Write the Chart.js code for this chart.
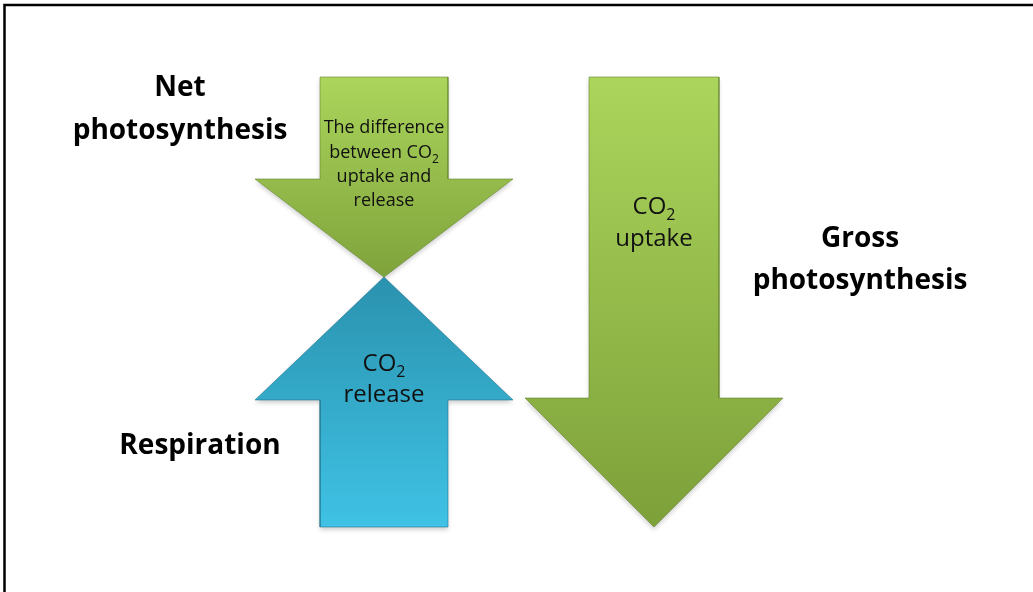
<!DOCTYPE html>
<html>
<head>
<meta charset="utf-8">
<script src="https://cdn.jsdelivr.net/npm/chart.js@4.4.1/dist/chart.umd.min.js"></script>
<style>
html,body{margin:0;padding:0;background:#fff;overflow:hidden;}
#wrap{width:1033px;height:592px;position:relative;}
</style>
</head>
<body>
<div id="wrap"><canvas id="c" width="1033" height="592"></canvas></div>
<script>
// ---- data (diagram geometry in chart units) ----
const arrowNames    = ['Net photosynthesis', 'Respiration', 'Gross photosynthesis'];
const arrowCenterX  = [384, 384, 654];
const arrowTailY    = [77, 527, 77];
const arrowHeadY    = [179, 400, 398];
const arrowTipY     = [277, 277, 527];
const shaftHalfW    = [64, 64, 65];
const headHalfW     = [129, 129, 129];
const arrowColorTop = ['#abd55c', '#2a92ae', '#abd55c'];
const arrowColorBot = ['#7fa33b', '#3fc2e5', '#7da039'];

const outerLabels   = [['Net', 'photosynthesis'], ['Respiration'], ['Gross', 'photosynthesis']];
const outerLabelX   = [180, 200, 860];
const outerLabelY   = [[88, 131], [446], [239, 281]];

const innerLabels   = [['The difference', 'between CO|2', 'uptake and', 'release'], ['CO|2', 'release'], ['CO|2', 'uptake']];
const innerLabelY   = [[128, 153, 177, 201], [364, 395], [207, 239]];
const innerFontSize = [18, 24, 24];

function arrowPolygon(i) {
  const cx = arrowCenterX[i], s = shaftHalfW[i], h = headHalfW[i];
  const t = arrowTailY[i], b = arrowHeadY[i], p = arrowTipY[i];
  return [
    {x: cx - s, y: t}, {x: cx + s, y: t}, {x: cx + s, y: b}, {x: cx + h, y: b},
    {x: cx, y: p}, {x: cx - h, y: b}, {x: cx - s, y: b}, {x: cx - s, y: t}
  ];
}

function gradientFor(i) {
  return function(ctx) {
    const chart = ctx.chart;
    if (!chart.chartArea) return arrowColorTop[i];
    const ys = chart.scales.y;
    const yTop = ys.getPixelForValue(Math.min(arrowTailY[i], arrowTipY[i]));
    const yBot = ys.getPixelForValue(Math.max(arrowTailY[i], arrowTipY[i]));
    const g = chart.ctx.createLinearGradient(0, yTop, 0, yBot);
    g.addColorStop(0, arrowColorTop[i]);
    g.addColorStop(1, arrowColorBot[i]);
    return g;
  };
}

const datasets = arrowNames.map((n, i) => ({
  label: n,
  data: arrowPolygon(i),
  showLine: true,
  fill: 'shape',
  backgroundColor: gradientFor(i),
  borderColor: i === 1 ? 'rgba(30,110,135,0.55)' : 'rgba(95,130,40,0.55)',
  borderWidth: 1,
  pointRadius: 0,
  tension: 0
}));

const frame = {
  id: 'frame',
  beforeDraw(chart) {
    const c = chart.ctx;
    c.save();
    c.fillStyle = '#fff';
    c.fillRect(0, 0, chart.width, chart.height);
    c.restore();
  },
  beforeDatasetsDraw(chart) {
    const c = chart.ctx, xs = chart.scales.x, ys = chart.scales.y;
    c.save();
    arrowNames.forEach((n, i) => {
      c.beginPath();
      arrowPolygon(i).forEach((p, k) => {
        const X = xs.getPixelForValue(p.x), Y = ys.getPixelForValue(p.y) + 3;
        k ? c.lineTo(X, Y) : c.moveTo(X, Y);
      });
      c.closePath();
      c.fillStyle = 'rgba(0,0,0,0.18)';
      c.filter = 'blur(2px)';
      c.fill();
    });
    c.restore();
  },
  afterDraw(chart) {
    const c = chart.ctx, xs = chart.scales.x, ys = chart.scales.y;
    c.save();
    c.strokeStyle = '#000';
    c.lineWidth = 2.5;
    c.strokeRect(4.5, 5, 1200, 800);
    c.fillStyle = '#000';
    c.textAlign = 'center';
    c.textBaseline = 'middle';
    c.font = 'bold 28px "Open Sans", Lato, sans-serif';
    outerLabels.forEach((lines, i) => {
      lines.forEach((t, k) => {
        c.fillText(t, xs.getPixelForValue(outerLabelX[i]), ys.getPixelForValue(outerLabelY[i][k]));
      });
    });
    innerLabels.forEach((lines, i) => {
      const fs = innerFontSize[i];
      lines.forEach((t, k) => {
        const parts = t.split('|');
        const main = parts[0], sub = parts[1] || '';
        const mainFont = fs + 'px "Open Sans", Lato, sans-serif';
        const subFont = Math.round(fs * 0.65) + 'px "Open Sans", Lato, sans-serif';
        c.font = mainFont;
        const wm = c.measureText(main).width;
        c.font = subFont;
        const ws = sub ? c.measureText(sub).width : 0;
        const total = wm + ws;
        const cx = xs.getPixelForValue(arrowCenterX[i]);
        const cy = ys.getPixelForValue(innerLabelY[i][k]);
        const x0 = cx - total / 2;
        c.textAlign = 'left';
        c.fillStyle = '#111';
        c.font = mainFont;
        c.fillText(main, x0, cy);
        if (sub) {
          c.font = subFont;
          c.fillText(sub, x0 + wm, cy + fs * 0.35);
        }
      });
    });
    c.restore();
  }
};

new Chart(document.getElementById('c'), {
  type: 'scatter',
  data: { datasets },
  options: {
    responsive: false,
    animation: false,
    layout: { padding: 0 },
    plugins: { legend: { display: false }, tooltip: { enabled: false } },
    scales: {
      x: { type: 'linear', min: 0, max: 1033, display: false },
      y: { type: 'linear', min: 0, max: 592, reverse: true, display: false }
    }
  },
  plugins: [frame]
});
</script>
</body>
</html>
